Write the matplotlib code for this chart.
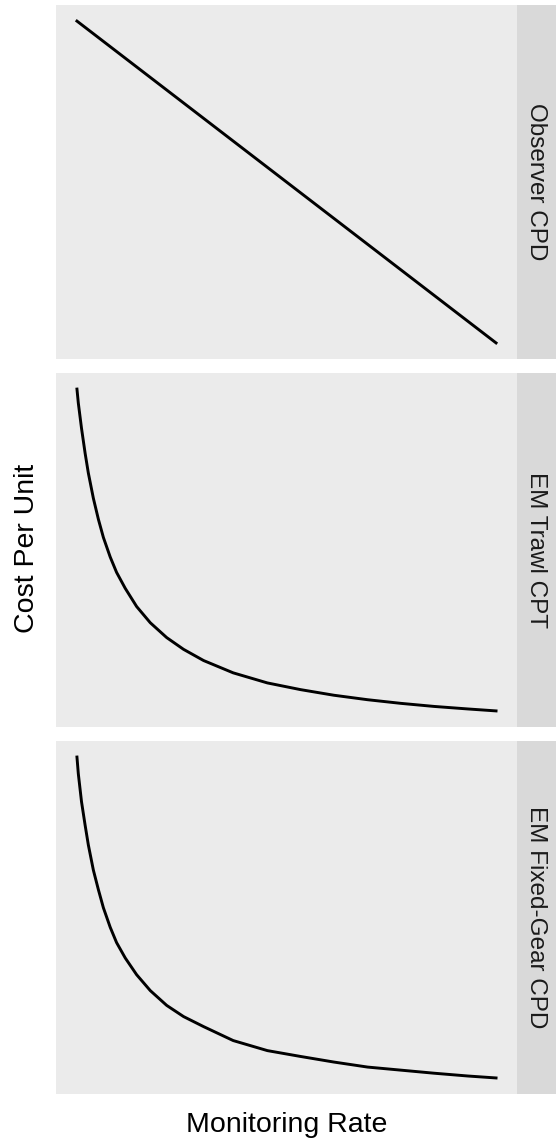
import matplotlib.pyplot as plt

# monitoring rate (x) and cost per unit (y) for each facet
observer_rate = [0.08, 1.0]
observer_cost = [12.5, 1.0]

trawl_rate = [0.080, 0.083, 0.090, 0.098, 0.105, 0.116, 0.127, 0.138, 0.153,
              0.167, 0.186, 0.211, 0.241, 0.277, 0.314, 0.358, 0.423, 0.498,
              0.571, 0.644, 0.718, 0.791, 0.864, 0.938, 1.000]
trawl_cost = [12.50, 12.00, 11.10, 10.20, 9.50, 8.60, 7.85, 7.20, 6.50,
              5.95, 5.38, 4.73, 4.15, 3.62, 3.20, 2.80, 2.36, 2.00,
              1.76, 1.56, 1.40, 1.27, 1.16, 1.07, 1.00]

fixed_rate = [0.080, 0.083, 0.090, 0.098, 0.105, 0.116, 0.127, 0.138, 0.153,
              0.167, 0.186, 0.211, 0.241, 0.277, 0.314, 0.358, 0.423, 0.498,
              0.571, 0.644, 0.718, 0.791, 0.864, 0.938, 1.000]
fixed_cost = [12.50, 11.90, 10.90, 10.05, 9.35, 8.45, 7.75, 7.10, 6.40,
              5.85, 5.30, 4.70, 4.13, 3.60, 3.20, 2.84, 2.34, 1.98,
              1.77, 1.57, 1.39, 1.28, 1.17, 1.07, 1.00]

facet_labels = ['Observer CPD', 'EM Trawl CPT', 'EM Fixed-Gear CPD']
facets = [(observer_rate, observer_cost),
          (trawl_rate, trawl_cost),
          (fixed_rate, fixed_cost)]

plt.rcParams['font.family'] = ['Liberation Sans', 'DejaVu Sans']

W, H = 556, 1143
fig = plt.figure(figsize=(W / 100, H / 100), dpi=100)

left, right = 56, 517
panels_y = [(5, 359), (373, 727), (741, 1094)]

for (x, y), label, (top, bottom) in zip(facets, facet_labels, panels_y):
    b = 1 - bottom / H
    h = (bottom - top) / H
    ax = fig.add_axes([left / W, b, (right - left) / W, h])
    ax.set_facecolor('#EBEBEB')
    ax.plot(x, y, color='black', linewidth=2.1, solid_joinstyle='round')
    ax.margins(0.05)
    ax.set_xticks([])
    ax.set_yticks([])
    for s in ax.spines.values():
        s.set_visible(False)

    strip = fig.add_axes([right / W, b, (W - right) / W, h])
    strip.set_facecolor('#D9D9D9')
    strip.set_xticks([])
    strip.set_yticks([])
    for s in strip.spines.values():
        s.set_visible(False)
    strip.text(0.5, 0.5, label, rotation=270, ha='center', va='center',
               fontsize=17.5, color='#1A1A1A', transform=strip.transAxes)

fig.text((left + right) / 2 / W, 1 - 1125 / H, 'Monitoring Rate',
         ha='center', va='center', fontsize=20.5, color='black')
fig.text(27 / W, 1 - 548 / H, 'Cost Per Unit', rotation=90,
         ha='center', va='center', fontsize=20.5, color='black')

fig.savefig('out.png', dpi=100, facecolor='white')
